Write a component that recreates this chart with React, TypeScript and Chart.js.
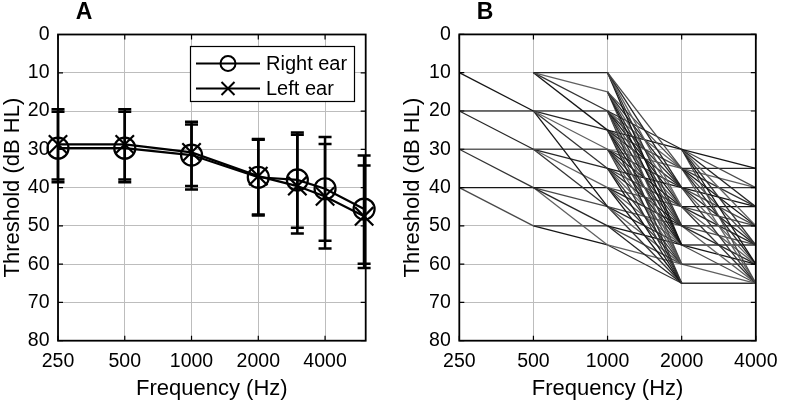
import React, { useEffect, useRef } from 'react';
import { Chart, registerables } from 'chart.js';

Chart.register(...registerables);

// ---------- Data ----------
const yTicks = [0, 10, 20, 30, 40, 50, 60, 70, 80];
const xTicks = [250, 500, 1000, 2000, 4000];

// Panel A
const freqsA = [250, 500, 1000, 2000, 3000, 4000, 6000];
const rightEar = [29.7, 29.7, 31.5, 37.3, 38.0, 40.3, 45.6];
const leftEar = [28.7, 28.7, 30.8, 37.0, 39.6, 42.3, 47.5];
const rightLow = [20.2, 20.2, 23.5, 27.5, 26.2, 26.8, 31.6];
const rightHigh = [38.6, 38.6, 40.5, 47.3, 50.5, 53.9, 59.9];
const leftLow = [19.5, 19.5, 22.8, 27.3, 25.6, 28.6, 34.2];
const leftHigh = [37.9, 37.9, 39.6, 47.0, 52.0, 55.9, 61.0];

// Panel B: segments [from dB, to dB] between adjacent frequencies
const seg250to500: [number, number][] = [
  [10, 20], [20, 20], [20, 30], [30, 30], [30, 40], [40, 40], [40, 50],
];
const seg500to1000: [number, number][] = [
  [10, 10], [10, 15], [10, 20], [10, 25],
  [20, 20], [20, 25], [20, 30], [20, 35], [20, 45],
  [30, 30], [30, 35], [30, 40], [30, 45],
  [40, 40], [40, 45], [40, 50], [40, 55],
  [50, 50], [50, 55],
];
const seg1000to2000: [number, number][] = [
  [10, 35], [10, 40], [10, 45], [10, 50], [10, 55],
  [15, 35], [15, 40], [15, 45], [15, 50], [15, 55], [15, 60],
  [20, 30], [20, 35], [20, 40], [20, 45], [20, 50], [20, 55], [20, 60], [20, 65],
  [25, 30], [25, 35], [25, 40], [25, 45], [25, 50], [25, 55], [25, 60], [25, 65],
  [30, 35], [30, 40], [30, 45], [30, 50], [30, 55], [30, 60], [30, 65],
  [35, 40], [35, 45], [35, 50], [35, 55], [35, 60], [35, 65],
  [40, 45], [40, 50], [40, 55], [40, 60], [40, 65],
  [45, 50], [45, 55], [45, 60], [45, 65],
  [50, 55], [50, 60], [50, 65],
  [55, 60], [55, 65],
];
const seg2000to4000: [number, number][] = [
  [30, 35], [30, 40], [30, 45], [30, 50], [30, 55], [30, 60], [30, 65],
  [35, 35], [35, 40], [35, 45], [35, 50], [35, 55], [35, 60], [35, 65],
  [40, 40], [40, 45], [40, 50], [40, 55], [40, 60], [40, 65],
  [45, 45], [45, 50], [45, 55], [45, 60], [45, 65],
  [50, 50], [50, 55], [50, 60], [50, 65],
  [55, 55], [55, 60], [55, 65],
  [60, 60], [60, 65],
  [65, 65],
];

// ---------- Styling helpers ----------
const FONT = "'Liberation Sans', Arial, Helvetica, sans-serif";
const GRID = '#bdbdbd';
const H = 402;

const framePlugin = {
  id: 'frame',
  afterDatasetsDraw(chart: any) {
    const { ctx, chartArea } = chart;
    const { left, right, top, bottom } = chartArea;
    const xs = chart.scales.x;
    const ys = chart.scales.y;
    ctx.save();
    ctx.strokeStyle = '#000';
    ctx.lineWidth = 1.2;
    ctx.beginPath();
    xTicks.forEach((v) => {
      const px = xs.getPixelForValue(v);
      ctx.moveTo(px, bottom);
      ctx.lineTo(px, bottom - 5);
      ctx.moveTo(px, top);
      ctx.lineTo(px, top + 5);
    });
    yTicks.forEach((v) => {
      const py = ys.getPixelForValue(v);
      ctx.moveTo(left, py);
      ctx.lineTo(left + 5, py);
      ctx.moveTo(right, py);
      ctx.lineTo(right - 5, py);
    });
    ctx.stroke();
    ctx.lineWidth = 1.8;
    ctx.strokeRect(left, top, right - left, bottom - top);
    ctx.restore();
  },
};

const panelLabel = (text: string, x: number) => ({
  id: 'panelLabel' + text,
  afterDraw(chart: any) {
    const { ctx } = chart;
    ctx.save();
    ctx.fillStyle = '#000';
    ctx.font = `bold 23px ${FONT}`;
    ctx.textAlign = 'center';
    ctx.textBaseline = 'middle';
    ctx.fillText(text, x, 13);
    ctx.restore();
  },
});

const errorBarPlugin = {
  id: 'errorBars',
  afterDatasetsDraw(chart: any) {
    const { ctx } = chart;
    const xs = chart.scales.x;
    const ys = chart.scales.y;
    ctx.save();
    ctx.strokeStyle = '#000';
    ctx.lineWidth = 2.5;
    const sets: [number[], number[]][] = [
      [rightLow, rightHigh],
      [leftLow, leftHigh],
    ];
    sets.forEach(([lo, hi]) => {
      freqsA.forEach((f, i) => {
        const px = xs.getPixelForValue(f);
        const y1 = ys.getPixelForValue(lo[i]);
        const y2 = ys.getPixelForValue(hi[i]);
        ctx.beginPath();
        ctx.moveTo(px, y1);
        ctx.lineTo(px, y2);
        ctx.moveTo(px - 6.5, y1);
        ctx.lineTo(px + 6.5, y1);
        ctx.moveTo(px - 6.5, y2);
        ctx.lineTo(px + 6.5, y2);
        ctx.stroke();
      });
    });
    ctx.restore();
  },
};

const legendPlugin = {
  id: 'legendBox',
  afterDatasetsDraw(chart: any) {
    const { ctx } = chart;
    ctx.save();
    const bx = 190.5, by = 46.5, bw = 164, bh = 55;
    ctx.fillStyle = '#fff';
    ctx.fillRect(bx, by, bw, bh);
    ctx.strokeStyle = '#000';
    ctx.lineWidth = 1.2;
    ctx.strokeRect(bx, by, bw, bh);
    const rows = [
      { y: 63.5, label: 'Right ear', marker: 'circle' },
      { y: 88.5, label: 'Left ear', marker: 'x' },
    ];
    rows.forEach((r) => {
      ctx.lineWidth = 2;
      ctx.beginPath();
      ctx.moveTo(196, r.y);
      ctx.lineTo(260, r.y);
      ctx.stroke();
      ctx.beginPath();
      if (r.marker === 'circle') {
        ctx.arc(228, r.y, 7.5, 0, Math.PI * 2);
      } else {
        ctx.moveTo(221.5, r.y - 6.5);
        ctx.lineTo(234.5, r.y + 6.5);
        ctx.moveTo(234.5, r.y - 6.5);
        ctx.lineTo(221.5, r.y + 6.5);
      }
      ctx.stroke();
      ctx.fillStyle = '#000';
      ctx.font = `20px ${FONT}`;
      ctx.textAlign = 'left';
      ctx.textBaseline = 'middle';
      ctx.fillText(r.label, 266, r.y + 1);
    });
    ctx.restore();
  },
};

function makeScales(xMax: number, yWidth: number) {
  return {
    x: {
      type: 'logarithmic',
      min: 250,
      max: xMax,
      afterBuildTicks: (s: any) => {
        s.ticks = xTicks.map((v) => ({ value: v }));
      },
      afterFit: (s: any) => {
        s.height = H - 340.7;
      },
      ticks: {
        callback: (v: any) => String(v),
        autoSkip: false,
        maxRotation: 0,
        minRotation: 0,
        padding: 9.5,
        color: '#000',
        font: { family: FONT, size: 19.5 },
      },
      grid: { color: GRID, lineWidth: 1, drawTicks: false },
      border: { display: false },
      title: {
        display: true,
        text: 'Frequency (Hz)',
        color: '#000',
        font: { family: FONT, size: 22 },
        padding: { top: 0, bottom: 0 },
      },
    },
    y: {
      type: 'linear',
      reverse: true,
      min: 0,
      max: 80,
      afterBuildTicks: (s: any) => {
        s.ticks = yTicks.map((v) => ({ value: v }));
      },
      afterFit: (s: any) => {
        s.width = yWidth;
      },
      ticks: {
        callback: (v: any) => String(v),
        padding: 8.5,
        color: '#000',
        font: { family: FONT, size: 19.5 },
      },
      grid: { color: GRID, lineWidth: 1, drawTicks: false },
      border: { display: false },
      title: {
        display: true,
        text: 'Threshold (dB HL)',
        color: '#000',
        font: { family: FONT, size: 22 },
        padding: { top: 0, bottom: 0 },
      },
    },
  };
}

function configA(): any {
  return {
    type: 'line',
    data: {
      datasets: [
        {
          label: 'Right ear',
          data: freqsA.map((f, i) => ({ x: f, y: rightEar[i] })),
          borderColor: '#000',
          borderWidth: 2.2,
          pointStyle: 'circle',
          pointRadius: 10.5,
          pointBorderWidth: 2.2,
          pointBorderColor: '#000',
          pointBackgroundColor: 'rgba(0,0,0,0)',
          fill: false,
          tension: 0,
          clip: false,
        },
        {
          label: 'Left ear',
          data: freqsA.map((f, i) => ({ x: f, y: leftEar[i] })),
          borderColor: '#000',
          borderWidth: 2.2,
          pointStyle: 'crossRot',
          pointRadius: 13,
          pointBorderWidth: 2.2,
          pointBorderColor: '#000',
          pointBackgroundColor: 'rgba(0,0,0,0)',
          fill: false,
          tension: 0,
          clip: false,
        },
      ],
    },
    options: {
      animation: false,
      responsive: false,
      maintainAspectRatio: false,
      layout: { padding: { top: 34.5, right: 34.3, left: 0, bottom: 0 } },
      plugins: { legend: { display: false }, tooltip: { enabled: false } },
      scales: makeScales(6100, 58),
    },
    plugins: [errorBarPlugin, framePlugin, legendPlugin, panelLabel('A', 84)],
  };
}

const shades = ['#161616', '#4a4a4a', '#262626', '#606060', '#333333'];

function configB(): any {
  const stages: [number, number, [number, number][]][] = [
    [250, 500, seg250to500],
    [500, 1000, seg500to1000],
    [1000, 2000, seg1000to2000],
    [2000, 4000, seg2000to4000],
  ];
  const datasets: any[] = [];
  let k = 0;
  stages.forEach(([f1, f2, segs]) => {
    segs.forEach(([a, b]) => {
      datasets.push({
        data: [
          { x: f1, y: a },
          { x: f2, y: b },
        ],
        borderColor: shades[k % shades.length],
        borderWidth: 1.3,
        pointRadius: 0,
        fill: false,
        tension: 0,
      });
      k++;
    });
  });
  return {
    type: 'line',
    data: { datasets },
    options: {
      animation: false,
      responsive: false,
      maintainAspectRatio: false,
      layout: { padding: { top: 34.4, right: 23, left: 0, bottom: 0 } },
      plugins: { legend: { display: false }, tooltip: { enabled: false } },
      scales: makeScales(4000, 59.3),
    },
    plugins: [framePlugin, panelLabel('B', 85)],
  };
}

function ChartCanvas({ make, left, width }: { make: () => any; left: number; width: number }) {
  const ref = useRef<HTMLCanvasElement | null>(null);
  useEffect(() => {
    if (!ref.current) return;
    const chart = new Chart(ref.current, make());
    return () => chart.destroy();
  }, []);
  return (
    <canvas
      ref={ref}
      width={width}
      height={H}
      style={{ position: 'absolute', left, top: 0, width, height: H, display: 'block' }}
    />
  );
}

export default function App() {
  return (
    <div
      style={{
        position: 'fixed',
        left: 0,
        top: 0,
        width: 787,
        height: H,
        background: '#fff',
        overflow: 'hidden',
      }}
    >
      <ChartCanvas make={configA} left={0} width={400} />
      <ChartCanvas make={configB} left={400} width={387} />
    </div>
  );
}
